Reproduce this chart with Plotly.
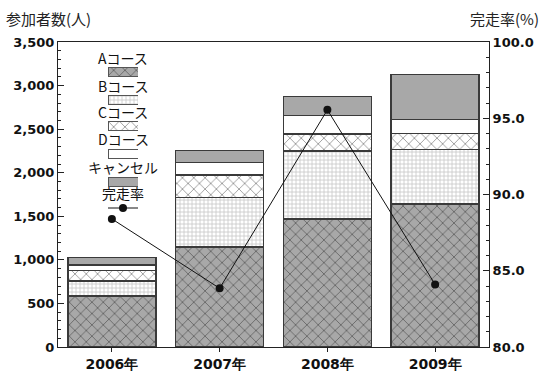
import plotly.graph_objects as go

# ---- data -------------------------------------------------------------
years = ["2006年", "2007年", "2008年", "2009年"]
course_a = [585, 1148, 1469, 1641]
course_b = [172, 566, 780, 628]
course_c = [119, 260, 195, 183]
course_d = [65, 146, 215, 161]
cancel = [84, 133, 213, 516]
finish_rate = [88.4, 83.85, 95.55, 84.1]

legend_names = ["Aコース", "Bコース", "Cコース", "Dコース", "キャンセル", "完走率"]

# ---- geometry helpers -------------------------------------------------
W, H = 541, 373
ML, MR, MT, MB = 58, 52, 42, 26
PW, PH = W - ML - MR, H - MT - MB


def px_x(x):
    return (x - ML) / PW


def px_y(y):
    return (H - MB - y) / PH


CJK = "Noto Sans CJK JP, sans-serif"
NUM = "DejaVu Sans, sans-serif"
OUTLINE = dict(color="#3a3a3a", width=1.5)

styles = {
    "A": dict(color="#a8a8a8", pattern=dict(shape="x", size=8, solidity=0.22,
                                            fgcolor="#2a2a2a", bgcolor="#a8a8a8",
                                            fillmode="overlay")),
    "B": dict(color="white", pattern=dict(shape="+", size=4, solidity=0.35,
                                          fgcolor="#8a8a8a", bgcolor="white",
                                          fillmode="overlay")),
    "C": dict(color="white", pattern=dict(shape="x", size=8, solidity=0.22,
                                          fgcolor="#3a3a3a", bgcolor="white",
                                          fillmode="overlay")),
    "D": dict(color="white"),
    "X": dict(color="#a8a8a8"),
}

fig = go.Figure()

series = [("A", course_a), ("B", course_b), ("C", course_c), ("D", course_d), ("X", cancel)]
for (key, vals), name in zip(series, legend_names):
    fig.add_trace(go.Bar(
        x=years, y=vals, name=name, showlegend=False,
        marker=dict(line=OUTLINE, **styles[key]),
        hoverinfo="skip",
    ))

fig.add_trace(go.Scatter(
    x=years, y=finish_rate, yaxis="y2", mode="lines+markers",
    name=legend_names[5], showlegend=False,
    line=dict(color="#111", width=1),
    marker=dict(color="#111", size=8),
))

# ---- hand-built legend: label above each swatch -------------------------
swatch_x0, swatch_x1 = 108, 138
label_cx = 123
label_y = [58, 86, 112, 139, 167, 193]
swatch_y = [72, 100, 126, 154, 182, 208]

for (key, _), cy in zip(series, swatch_y[:5]):
    fig.add_trace(go.Bar(
        x=[1], y=[H - MB - cy], orientation="h", width=9,
        xaxis="x3", yaxis="y3", showlegend=False, hoverinfo="skip",
        marker=dict(line=dict(color="#555", width=1), **styles[key]),
    ))
fig.add_trace(go.Scatter(
    x=[0, 0.5, 1], y=[H - MB - swatch_y[5]] * 3, xaxis="x3", yaxis="y3",
    mode="lines", line=dict(color="#111", width=1), showlegend=False, hoverinfo="skip",
))
fig.add_trace(go.Scatter(
    x=[0.5], y=[H - MB - swatch_y[5]], xaxis="x3", yaxis="y3",
    mode="markers", marker=dict(color="#111", size=8), showlegend=False, hoverinfo="skip",
))

annotations = []
for name, cy in zip(legend_names, label_y):
    annotations.append(dict(
        text=name, x=px_x(label_cx), y=px_y(cy), xref="paper", yref="paper",
        xanchor="center", yanchor="middle", showarrow=False,
        font=dict(family=CJK, size=14, color="#111"),
    ))

annotations.append(dict(
    text="参加者数(人)", x=px_x(4), y=px_y(18), xref="paper", yref="paper",
    xanchor="left", yanchor="middle", showarrow=False,
    font=dict(family=CJK, size=15, color="#222"),
))
annotations.append(dict(
    text="完走率(%)", x=px_x(541), y=px_y(18), xref="paper", yref="paper",
    xanchor="right", yanchor="middle", showarrow=False,
    font=dict(family=CJK, size=15, color="#222"),
))

axis_line = dict(showline=True, linecolor="#222", linewidth=1, showgrid=False,
                 zeroline=False, automargin=False)
tick_font = dict(family=NUM, size=13, color="#111", weight="bold")

fig.update_layout(
    width=W, height=H,
    margin=dict(l=ML, r=MR, t=MT, b=MB, pad=0, autoexpand=False),
    paper_bgcolor="white", plot_bgcolor="rgba(0,0,0,0)",
    barmode="stack", bargap=0.185,
    xaxis=dict(**axis_line, mirror=True, ticks="outside", ticklen=4, tickcolor="#222",
               tickfont=dict(family=NUM, size=14, color="#111", weight="bold")),
    yaxis=dict(**axis_line, range=[0, 3500], dtick=500, tickformat=",",
               ticks="inside", ticklen=6, tickcolor="#222", tickfont=tick_font,
               minor=dict(dtick=100, ticks="inside", ticklen=3, tickcolor="#222")),
    yaxis2=dict(**axis_line, overlaying="y", side="right", range=[80, 100], dtick=5,
                tickformat=".1f", ticks="inside", ticklen=6, tickcolor="#222",
                tickfont=tick_font,
                minor=dict(dtick=1, ticks="inside", ticklen=3, tickcolor="#222")),
    xaxis3=dict(domain=[px_x(swatch_x0), px_x(swatch_x1)], range=[0, 1], anchor="y3",
                visible=False, fixedrange=True, automargin=False),
    yaxis3=dict(domain=[0, 1], range=[0, PH], anchor="x3", visible=False,
                fixedrange=True, automargin=False),
    annotations=annotations,
)

fig.write_html("out.html")
